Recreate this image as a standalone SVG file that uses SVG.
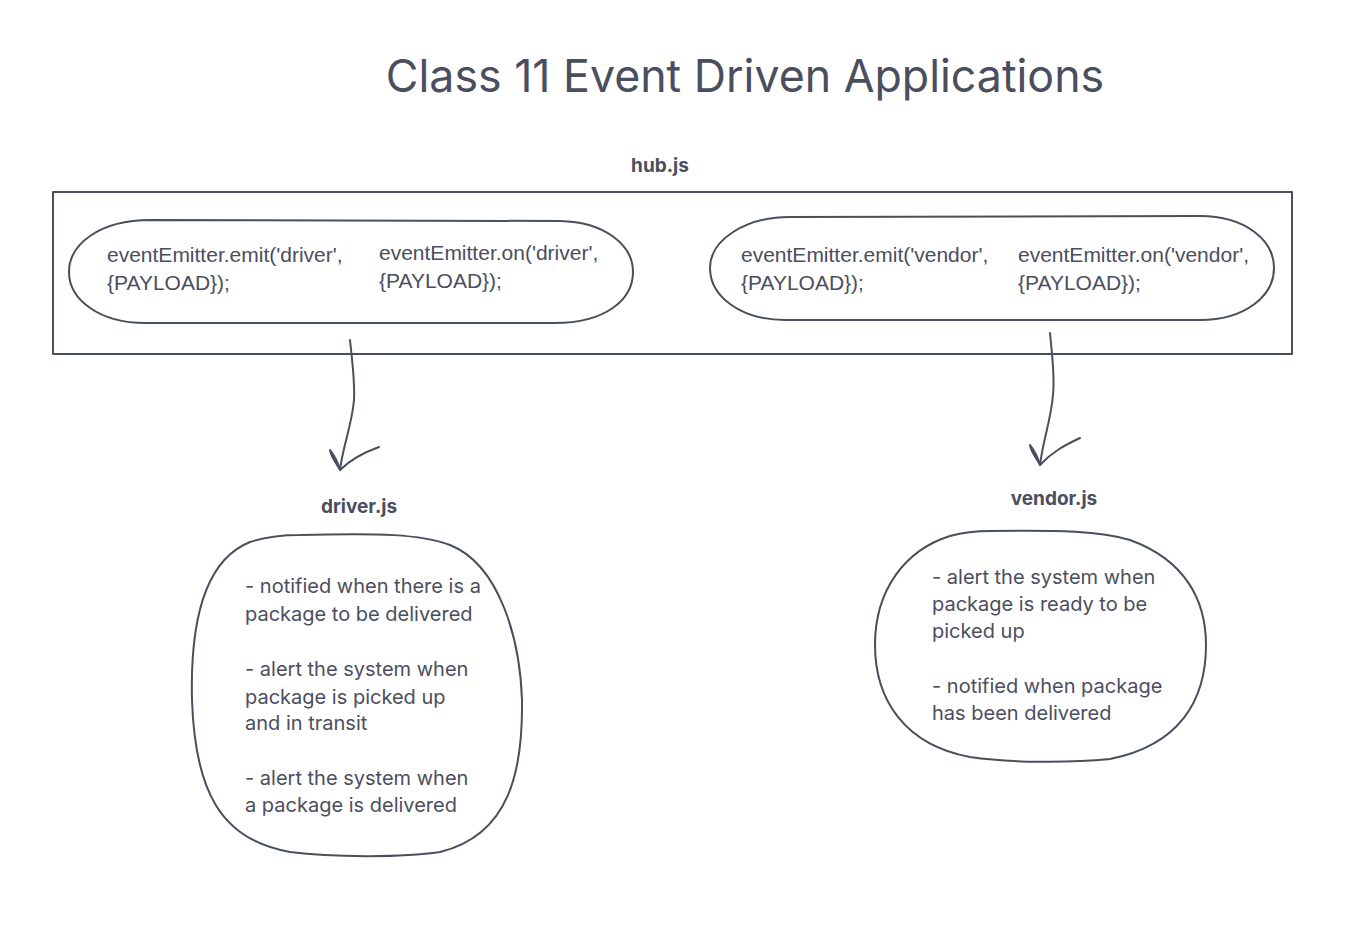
<svg xmlns="http://www.w3.org/2000/svg" width="1367" height="933" viewBox="0 0 1367 933">
<style>
.s{fill:none;stroke:#4a4e5e;stroke-width:2;stroke-linecap:round;stroke-linejoin:round}
.t{font-family:Inter,"Liberation Sans",sans-serif;fill:#4a4e5e}
.code{font-family:"Liberation Sans",Arial,sans-serif;font-size:21px;fill:#4a4e5e}
.body{font-size:20px}
.lbl{font-size:19px;font-weight:700;text-anchor:middle}
</style>
<rect width="1367" height="933" fill="#ffffff"/>
<text class="t" x="745" y="92" font-size="44.7" text-anchor="middle">Class 11 Event Driven Applications</text>
<g id="hub">
<text class="t lbl" x="660" y="172">hub.js</text>
<rect class="s" x="53" y="192" width="1239" height="162"/>
</g>
<g id="driver-events">
<path class="s" d="M150,220 L560,221 C605,222 633,245 633,272 C633,300 605,323 555,323 L145,323 C100,323 69,300 69,272 C69,244 100,220 150,220 Z"/>
<text class="code"><tspan x="107" y="262">eventEmitter.emit('driver',</tspan><tspan x="107" y="290">{PAYLOAD});</tspan></text>
<text class="code"><tspan x="379" y="260">eventEmitter.on('driver',</tspan><tspan x="379" y="288">{PAYLOAD});</tspan></text>
</g>
<g id="vendor-events">
<path class="s" d="M790,217 L1200,216 C1245,216 1274,240 1274,268 C1274,296 1245,320 1200,320 L785,320 C740,320 710,296 710,268 C710,240 745,217 790,217 Z"/>
<text class="code"><tspan x="741" y="262">eventEmitter.emit('vendor',</tspan><tspan x="741" y="290">{PAYLOAD});</tspan></text>
<text class="code"><tspan x="1018" y="262">eventEmitter.on('vendor',</tspan><tspan x="1018" y="290">{PAYLOAD});</tspan></text>
</g>
<g id="connectors">
<path class="s" d="M350,340 C352,360 355,380 354,400 C352,425 343,445 340,470"/>
<path class="s" d="M340,470 C336,462 331,457 330,450 C334,455 338,462 340,470 C352,458 365,452 379,447"/>
<path class="s" d="M1050,333 C1052,355 1055,375 1053,395 C1051,420 1043,440 1040,465"/>
<path class="s" d="M1040,465 C1036,457 1031,452 1030,445 C1034,450 1038,457 1040,465 C1052,452 1065,445 1080,438"/>
</g>
<g id="driver">
<text class="t lbl" x="359" y="513">driver.js</text>
<path class="s" d="M300,535 C380,533 420,534 450,545 C500,565 520,640 522,700 C523,770 510,835 440,852 C400,858 330,857 290,852 C220,840 195,790 192,700 C190,620 205,560 250,542 C265,537 280,535 300,535 Z"/>
<text class="t body"><tspan x="245" y="593">- notified when there is a</tspan><tspan x="245" y="621">package to be delivered</tspan><tspan x="245" y="676">- alert the system when</tspan><tspan x="245" y="704">package is picked up</tspan><tspan x="245" y="730">and in transit</tspan><tspan x="245" y="785">- alert the system when</tspan><tspan x="245" y="812">a package is delivered</tspan></text>
</g>
<g id="vendor">
<text class="t lbl" x="1054" y="505">vendor.js</text>
<path class="s" d="M990,531 C1060,530 1100,531 1130,540 C1185,560 1206,600 1206,645 C1206,700 1180,745 1110,759 C1070,763 1010,763 970,757 C905,745 875,700 875,645 C875,590 905,550 950,536 C965,532 975,531 990,531 Z"/>
<text class="t body"><tspan x="932" y="584">- alert the system when</tspan><tspan x="932" y="611">package is ready to be</tspan><tspan x="932" y="638">picked up</tspan><tspan x="932" y="693">- notified when package</tspan><tspan x="932" y="720">has been delivered</tspan></text>
</g>
</svg>
